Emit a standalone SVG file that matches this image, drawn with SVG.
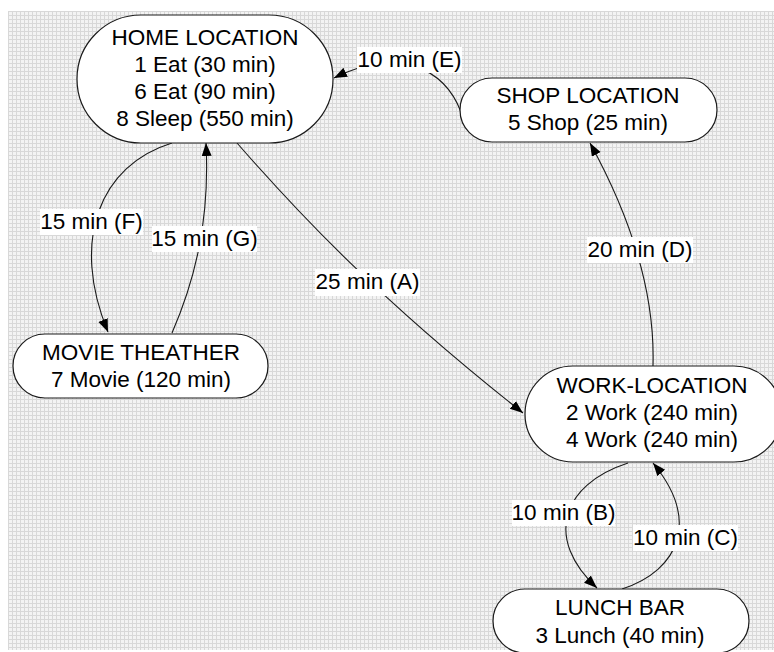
<svg xmlns="http://www.w3.org/2000/svg" width="774" height="652" viewBox="0 0 774 652">
<style>
.node{fill:#fff;stroke:#1a1a1a;stroke-width:1.2}
.t{font-family:"Liberation Sans",Arial,sans-serif;font-size:22.5px;fill:#000;text-anchor:middle}
.edge{fill:none;stroke:#1a1a1a;stroke-width:1.1}
.lbl{fill:#fff}
</style>
<defs>
<pattern id="grid" x="8" y="11" width="4" height="4" patternUnits="userSpaceOnUse">
<rect width="4" height="4" fill="#f3f3f3"/>
<path d="M0.5 0V4M0 0.5H4" stroke="#d8d8d8" stroke-width="1"/>
</pattern>
<marker id="arr" markerWidth="14" markerHeight="11" refX="13" refY="5" orient="auto" markerUnits="userSpaceOnUse">
<path d="M0 0L13 5L0 10z" fill="#000"/>
</marker>
</defs>
<rect width="774" height="652" fill="#fff"/>
<rect x="8" y="11" width="766" height="639" fill="url(#grid)"/>

<g id="connectors">
<path class="edge" d="M461 112C445 70 400 45 334 78" marker-end="url(#arr)"/>
<path class="edge" d="M237 143C300 215 380 300 523 413" marker-end="url(#arr)"/>
<path class="edge" d="M172 143C100 165 70 240 108 332" marker-end="url(#arr)"/>
<path class="edge" d="M172 333C195 280 210 220 206 143" marker-end="url(#arr)"/>
<path class="edge" d="M653 366C655 300 635 225 590 143" marker-end="url(#arr)"/>
<path class="edge" d="M628 463C560 485 545 540 597 588" marker-end="url(#arr)"/>
<path class="edge" d="M622 589C680 570 700 520 653 463" marker-end="url(#arr)"/>
<g id="label-E"><rect class="lbl" x="357" y="47" width="105" height="26"/><text class="t" x="409.5" y="67">10 min (E)</text></g>
<g id="label-A"><rect class="lbl" x="315" y="269" width="105" height="27"/><text class="t" x="367.5" y="289">25 min (A)</text></g>
<g id="label-F"><rect class="lbl" x="40" y="209" width="103" height="26"/><text class="t" x="91.5" y="229">15 min (F)</text></g>
<g id="label-G"><rect class="lbl" x="152" y="226" width="105" height="26"/><text class="t" x="204.5" y="246">15 min (G)</text></g>
<g id="label-D"><rect class="lbl" x="587" y="237" width="106" height="26"/><text class="t" x="640" y="257">20 min (D)</text></g>
<g id="label-B"><rect class="lbl" x="512" y="500" width="103" height="26"/><text class="t" x="563.5" y="520">10 min (B)</text></g>
<g id="label-C"><rect class="lbl" x="633" y="525" width="105" height="26"/><text class="t" x="685.5" y="545">10 min (C)</text></g>
</g>

<g id="home">
<rect class="node" x="77" y="15" width="256" height="128" rx="64" ry="64"/>
<text class="t" x="205" y="45">HOME LOCATION</text>
<text class="t" x="205" y="72">1 Eat (30 min)</text>
<text class="t" x="205" y="99">6 Eat (90 min)</text>
<text class="t" x="205" y="126">8 Sleep (550 min)</text>
</g>
<g id="shop">
<rect class="node" x="460" y="78" width="257" height="64" rx="32" ry="32"/>
<text class="t" x="588" y="103">SHOP LOCATION</text>
<text class="t" x="588" y="130">5 Shop (25 min)</text>
</g>
<g id="movie">
<rect class="node" x="13" y="334" width="255" height="64" rx="32" ry="32"/>
<text class="t" x="141" y="360">MOVIE THEATHER</text>
<text class="t" x="141" y="387">7 Movie (120 min)</text>
</g>
<g id="work">
<rect class="node" x="525" y="366" width="257" height="96" rx="48" ry="48"/>
<text class="t" x="652" y="393">WORK-LOCATION</text>
<text class="t" x="652" y="420">2 Work (240 min)</text>
<text class="t" x="652" y="447">4 Work (240 min)</text>
</g>
<g id="lunch">
<rect class="node" x="493" y="589" width="256" height="64" rx="32" ry="32"/>
<text class="t" x="620" y="615">LUNCH BAR</text>
<text class="t" x="620" y="643">3 Lunch (40 min)</text>
</g>
</svg>
